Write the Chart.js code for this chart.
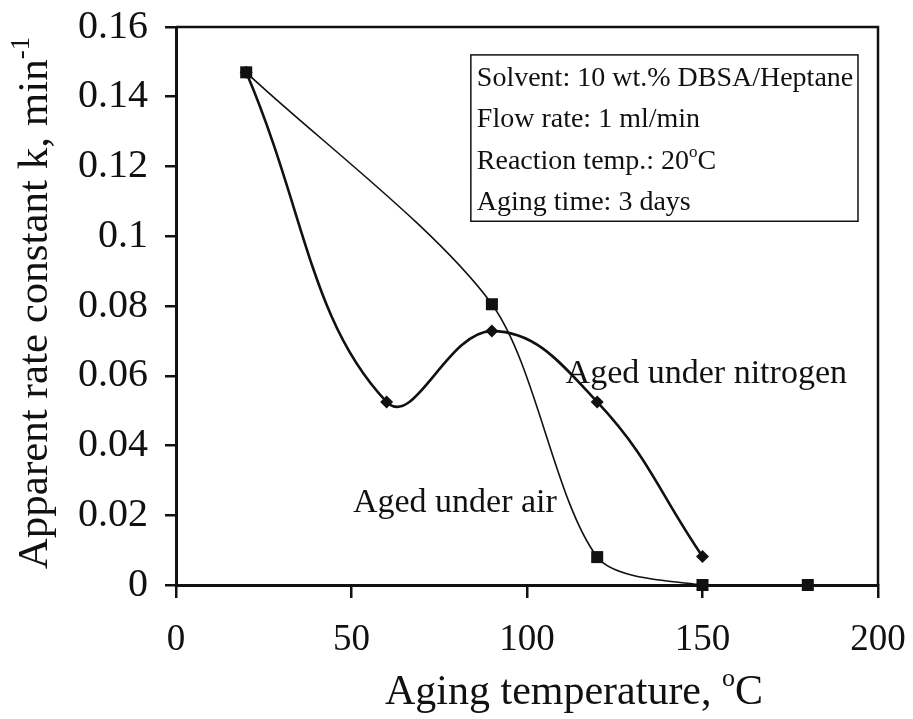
<!DOCTYPE html>
<html>
<head>
<meta charset="utf-8">
<script src="https://cdn.jsdelivr.net/npm/chart.js@4.4.1/dist/chart.umd.min.js"></script>
<style>
  html, body { margin: 0; padding: 0; background: #fff; }
  #wrap { width: 913px; height: 719px; }
</style>
</head>
<body>
<div id="wrap"><canvas id="graphCanvasAging"></canvas></div>
<script>
// aging temperature (C) and apparent rate constant k (1/min)
var airTemps = [20, 90, 120, 150, 180];
var airRates = [0.147, 0.0805, 0.008, 0, 0];

var nitroTemps = [20, 60, 90, 120, 150];
var nitroRates = [0.147, 0.0525, 0.0728, 0.0525, 0.0082];

var xTicks = [0, 50, 100, 150, 200];
var yTicks = [0, 0.02, 0.04, 0.06, 0.08, 0.1, 0.12, 0.14, 0.16];

var boxLines = [
    [{ t: 'Solvent: 10 wt.% DBSA/Heptane' }],
    [{ t: 'Flow rate: 1 ml/min' }],
    [{ t: 'Reaction temp.: 20' }, { t: 'o', sup: true }, { t: 'C' }],
    [{ t: 'Aging time: 3 days' }]
];

var serif = "'Liberation Serif', 'Times New Roman', serif";

function toPoints(xs, ys) {
    var pts = [];
    for (var i in xs) {
        pts.push({ x: xs[i], y: ys[i] });
    }
    return pts;
}

// draws text made of normal and superscript parts, returns width
function drawParts(ctx, parts, x, y, size, align) {
    var small = Math.round(size * 0.62);
    var w = 0;
    parts.forEach(function(p) {
        ctx.font = (p.sup ? small : size) + 'px ' + serif;
        w += ctx.measureText(p.t).width;
    });
    var cx = align === 'center' ? x - w / 2 : x;
    parts.forEach(function(p) {
        ctx.font = (p.sup ? small : size) + 'px ' + serif;
        ctx.fillText(p.t, cx, p.sup ? y - size * 0.42 : y);
        cx += ctx.measureText(p.t).width;
    });
    return w;
}

var extras = {
    id: 'extras',
    afterDatasetsDraw: function(chart) {
        var ctx = chart.ctx;
        var area = chart.chartArea;
        var xs = chart.scales.x;
        var ys = chart.scales.y;
        ctx.save();
        ctx.fillStyle = '#111';
        ctx.strokeStyle = '#111';
        ctx.textBaseline = 'alphabetic';
        ctx.textAlign = 'left';

        // frame on top and right
        ctx.lineWidth = 2.5;
        ctx.beginPath();
        ctx.moveTo(area.left, area.top);
        ctx.lineTo(area.right, area.top);
        ctx.lineTo(area.right, area.bottom);
        ctx.stroke();

        // conditions box
        var bx = xs.getPixelForValue(84), bx2 = xs.getPixelForValue(194.3);
        var by = ys.getPixelForValue(0.152), by2 = ys.getPixelForValue(0.1043);
        ctx.fillStyle = '#fff';
        ctx.fillRect(bx, by, bx2 - bx, by2 - by);
        ctx.lineWidth = 1.5;
        ctx.strokeRect(bx, by, bx2 - bx, by2 - by);
        ctx.fillStyle = '#111';
        boxLines.forEach(function(line, i) {
            drawParts(ctx, line, bx + 6, by + 31 + i * 41.5, 28, 'left');
        });

        // series labels
        drawParts(ctx, [{ t: 'Aged under nitrogen' }], xs.getPixelForValue(111), ys.getPixelForValue(0.058), 34, 'left');
        drawParts(ctx, [{ t: 'Aged under air' }], xs.getPixelForValue(50.4), ys.getPixelForValue(0.021), 34, 'left');

        // axis titles
        drawParts(ctx, [{ t: 'Aging temperature, ' }, { t: 'o', sup: true }, { t: 'C' }], 574, 704, 42, 'center');
        ctx.translate(47, 303);
        ctx.rotate(-Math.PI / 2);
        drawParts(ctx, [{ t: 'Apparent rate constant k, min' }, { t: '-1', sup: true }], 0, 0, 43, 'center');
        ctx.restore();
    }
};

function showGraphAging() {
    var chartdata = {
        datasets: [{
            label: 'Aged under nitrogen',
            data: toPoints(nitroTemps, nitroRates),
            borderColor: '#111',
            backgroundColor: '#111',
            borderWidth: 2.6,
            tension: 0.42,
            pointStyle: 'rectRot',
            pointRadius: 6.5,
            pointBorderWidth: 0
        }, {
            label: 'Aged under air',
            data: toPoints(airTemps, airRates),
            borderColor: '#111',
            borderWidth: 1.6,
            tension: 0.28,
            pointRadius: 0,
            clip: { left: false, top: false, right: false, bottom: 0 }
        }, {
            label: 'air points',
            data: toPoints(airTemps, airRates),
            showLine: false,
            backgroundColor: '#111',
            borderColor: '#111',
            pointStyle: 'rect',
            pointRadius: 8.5,
            pointBorderWidth: 0,
            clip: false
        }]
    };

    var graphTarget = document.getElementById('graphCanvasAging');

    var lineGraph = new Chart(graphTarget, {
        type: 'line',
        data: chartdata,
        plugins: [extras],
        options: {
            responsive: true,
            maintainAspectRatio: false,
            animation: false,
            events: [],
            layout: { padding: { top: 27, right: 35, left: 0, bottom: 0 } },
            plugins: {
                legend: { display: false },
                tooltip: { enabled: false }
            },
            scales: {
                x: {
                    type: 'linear',
                    min: 0,
                    max: 200,
                    afterBuildTicks: function(axis) {
                        axis.ticks = xTicks.map(function(v) { return { value: v }; });
                    },
                    afterFit: function(axis) {
                        axis.height = 134;
                        axis.paddingLeft = 0;
                        axis.paddingRight = 0;
                    },
                    border: { display: true, color: '#111', width: 3 },
                    grid: { drawOnChartArea: false, drawTicks: true, tickLength: 13, color: '#111', lineWidth: 2.5 },
                    ticks: {
                        color: '#111',
                        padding: 20,
                        maxRotation: 0,
                        font: { family: serif, size: 37 }
                    }
                },
                y: {
                    type: 'linear',
                    min: 0,
                    max: 0.16,
                    afterBuildTicks: function(axis) {
                        axis.ticks = yTicks.map(function(v) { return { value: v }; });
                    },
                    afterFit: function(axis) {
                        axis.width = 176;
                        axis.paddingTop = 0;
                        axis.paddingBottom = 0;
                    },
                    border: { display: true, color: '#111', width: 3 },
                    grid: { drawOnChartArea: false, drawTicks: true, tickLength: 11, color: '#111', lineWidth: 2.5 },
                    ticks: {
                        color: '#111',
                        padding: 17,
                        font: { family: serif, size: 40 },
                        callback: function(v) { return String(+v.toFixed(2)); }
                    }
                }
            }
        }
    });
}

showGraphAging();
</script>
</body>
</html>
